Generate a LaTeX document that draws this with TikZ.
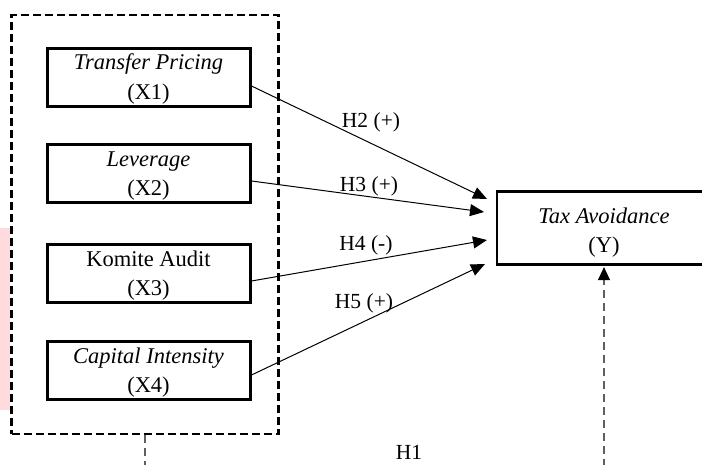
\documentclass[tikz,border=0pt]{standalone}
\usepackage{fontspec}
\setmainfont{Liberation Serif}
\usetikzlibrary{arrows.meta}
\definecolor{stripcol}{RGB}{255,218,222}
\definecolor{guidegray}{RGB}{95,95,95}
\tikzset{
  vbox/.style={draw, line width=3pt, minimum width=203pt, minimum height=58pt,
    inner sep=0pt, align=center, text height=49pt, font=\fontsize{22.5}{29.5}\selectfont},
  ybox/.style={draw, line width=2.2pt, minimum width=214pt, minimum height=73pt,
    inner sep=0pt, align=center, text height=54pt, font=\fontsize{22.5}{29}\selectfont},
  grpbox/.style={draw, line width=2.8pt, dash pattern=on 8pt off 4pt,
    minimum width=267pt, minimum height=419pt, inner sep=0pt},
  hyp/.style={line width=1pt, -{Triangle[length=14pt,width=12pt]}},
  guide/.style={draw=guidegray, line width=1.3pt, dash pattern=on 8pt off 5pt},
  lab/.style={inner sep=0pt, font=\fontsize{21.5}{25}\selectfont}
}
\begin{document}
\begin{tikzpicture}[x=1pt, y=-1pt]
\useasboundingbox (0,0) rectangle (702,464);

% side strip
\fill[stripcol] (0,228) rectangle (10,410);

% group of independent variables
\node[grpbox] (grp) at (145,224.5) {};

% independent variables
\node[vbox] (x1) at (148.5,77) {\textit{Transfer Pricing}\\(X1)};
\node[vbox] (x2) at (148.5,173.5) {\textit{Leverage}\\(X2)};
\node[vbox] (x3) at (148.5,273.5) {Komite Audit\\(X3)};
\node[vbox] (x4) at (148.5,370.5) {\textit{Capital Intensity}\\(X4)};

% dependent variable
\node[ybox] (y) at (604,228) {\textit{Tax Avoidance}\\(Y)};

% arrow targets
\coordinate (t2) at (487,199);
\coordinate (t3) at (484,212);
\coordinate (t4) at (487,240);
\coordinate (t5) at (485,264);

% hypothesis arrows
\draw[hyp] ([yshift=-9pt]x1.east) -- (t2);
\draw[hyp] ([yshift=-7.5pt]x2.east) -- (t3);
\draw[hyp] ([yshift=-7.5pt]x3.east) -- (t4);
\draw[hyp] ([yshift=-4.5pt]x4.east) -- (t5);

% hypothesis labels
\node[lab] (h2) at (371,122) {H2 (+)};
\node[lab] (h3) at (369,186) {H3 (+)};
\node[lab] (h4) at (366,245) {H4 (-)};
\node[lab] (h5) at (364,303) {H5 (+)};
\node[lab] (h1) at (409,452) {H1};

% simultaneous path (H1)
\coordinate (gb) at (145,480);
\coordinate (yb) at (604,480);
\draw[guide] (grp.south) -- (gb);
\draw[guide, -{Triangle[length=13pt,width=12pt,color=black]}] (yb) -- ([yshift=-1.5pt]y.south);
\end{tikzpicture}
\end{document}
